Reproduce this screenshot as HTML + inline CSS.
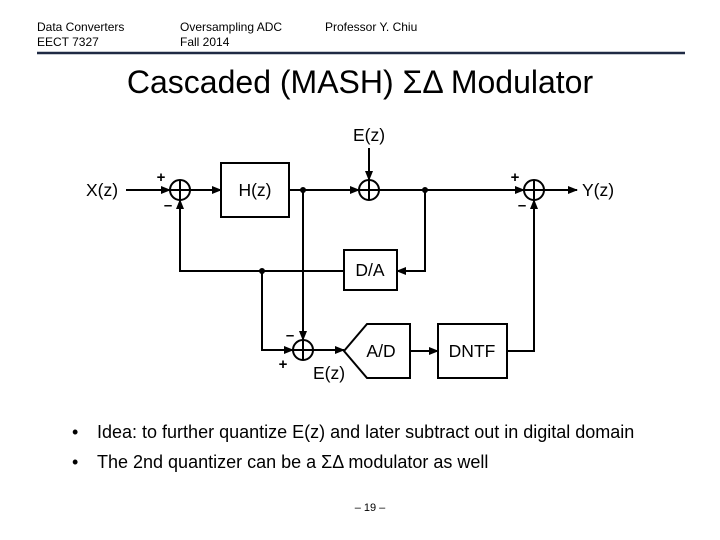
<!DOCTYPE html>
<html><head><meta charset="utf-8"><style>
body{margin:0;background:#fff;}
svg{display:block;font-family:"Liberation Sans",Arial,sans-serif;}
</style></head><body>
<svg width="720" height="540" viewBox="0 0 720 540" xmlns="http://www.w3.org/2000/svg">
<defs><marker id="a" markerWidth="10" markerHeight="8" refX="9" refY="4" orient="auto" markerUnits="userSpaceOnUse"><path d="M0,0 L10,4 L0,8 Z" fill="#000"/></marker></defs>
<g font-size="12" fill="#000">
<text x="37" y="31">Data Converters</text><text x="37" y="46">EECT 7327</text>
<text x="180" y="31">Oversampling ADC</text><text x="180" y="46">Fall 2014</text>
<text x="325" y="31">Professor Y. Chiu</text>
</g>
<line x1="37" y1="53" x2="685" y2="53" stroke="#1f2a44" stroke-width="2.5"/>
<text x="360" y="93" font-size="32" text-anchor="middle">Cascaded (MASH) ΣΔ Modulator</text>
<g stroke="#000" stroke-width="2" fill="none">
<circle cx="180" cy="190" r="10"/><path d="M170,190h20M180,180v20"/>
<circle cx="369" cy="190" r="10"/><path d="M359,190h20M369,180v20"/>
<circle cx="534" cy="190" r="10"/><path d="M524,190h20M534,180v20"/>
<circle cx="303" cy="350" r="10"/><path d="M293,350h20M303,340v20"/>
<rect x="221" y="163" width="68" height="54"/>
<rect x="344" y="250" width="53" height="40"/>
<rect x="438" y="324" width="69" height="54"/>
<path d="M344,351 L367,324 H410 V378 H367 Z"/>
<path d="M126,190 H170" marker-end="url(#a)"/>
<path d="M190,190 H221" marker-end="url(#a)"/>
<path d="M289,190 H359" marker-end="url(#a)"/>
<path d="M369,148 V180" marker-end="url(#a)"/>
<path d="M379,190 H524" marker-end="url(#a)"/>
<path d="M544,190 H577" marker-end="url(#a)"/>
<path d="M425,190 V271 H397" marker-end="url(#a)"/>
<path d="M344,271 H180 V200" marker-end="url(#a)"/>
<path d="M262,271 V350 H293" marker-end="url(#a)"/>
<path d="M303,190 V340" marker-end="url(#a)"/>
<path d="M313,350 H344" marker-end="url(#a)"/>
<path d="M410,351 H438" marker-end="url(#a)"/>
<path d="M507,351 H534 V200" marker-end="url(#a)"/>
</g>
<g fill="#000"><circle cx="303" cy="190" r="3"/><circle cx="425" cy="190" r="3"/><circle cx="262" cy="271" r="3"/></g>
<g font-size="17.5" fill="#000" text-anchor="middle">
<text x="102" y="196">X(z)</text><text x="255" y="196">H(z)</text>
<text x="369" y="141">E(z)</text><text x="598" y="196">Y(z)</text>
<text x="370" y="276">D/A</text><text x="381" y="357">A/D</text><text x="472" y="357">DNTF</text>
<text x="329" y="379">E(z)</text>
</g>
<g font-size="15" fill="#000" text-anchor="middle" font-weight="bold">
<text x="161" y="182">+</text><text x="168" y="210">–</text>
<text x="515" y="182">+</text><text x="522" y="210">–</text>
<text x="290" y="340">–</text><text x="283" y="369">+</text>
</g>
<g font-size="18" fill="#000">
<text x="72" y="438">•</text><text x="97" y="438">Idea: to further quantize E(z) and later subtract out in digital domain</text>
<text x="72" y="468">•</text><text x="97" y="468">The 2nd quantizer can be a ΣΔ modulator as well</text>
</g>
<text x="370" y="511" font-size="11" text-anchor="middle">– 19 –</text>
</svg>
</body></html>
